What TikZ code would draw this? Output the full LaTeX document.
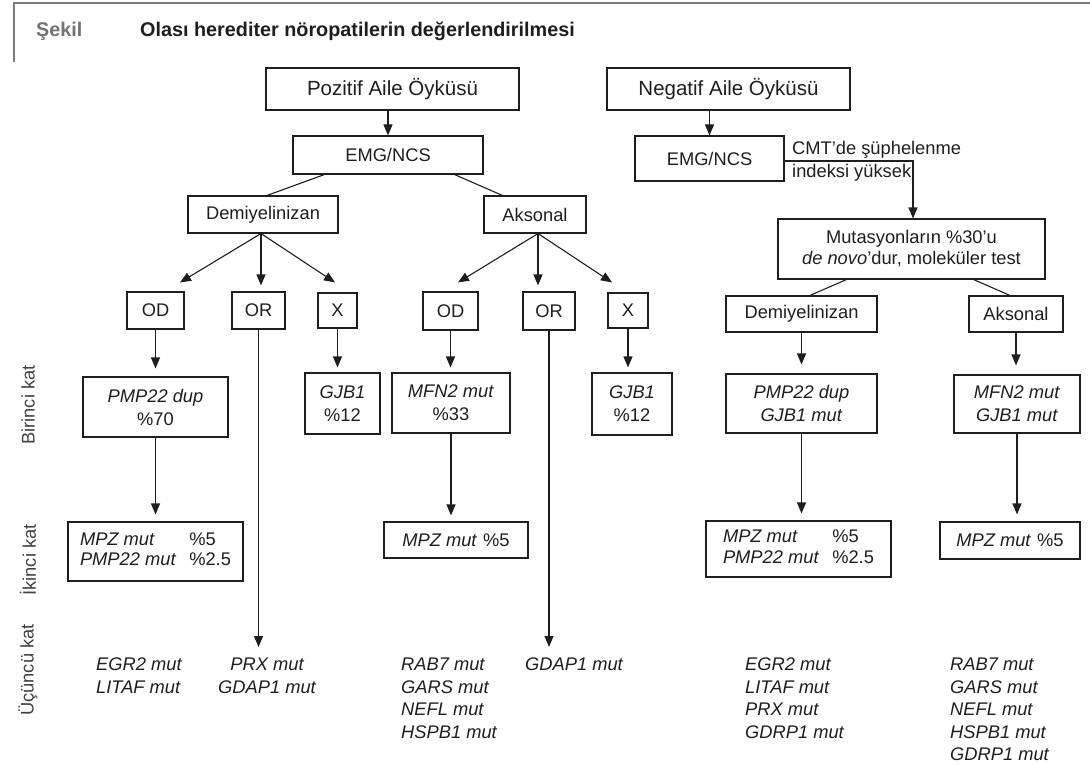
\documentclass[tikz,border=0pt]{standalone}
\usepackage{fontspec}
\setmainfont{Liberation Sans}
\usetikzlibrary{arrows.meta,calc}
\newcommand\nf{\fontsize{18.3}{23}\selectfont}
\newcommand\bigf{\fontsize{20.5}{24}\selectfont}
\definecolor{ink}{HTML}{1E1E1E}
\definecolor{framegray}{HTML}{7C7C7C}
\begin{document}
\begin{tikzpicture}[x=1pt,y=-1pt,
  box/.style={draw=ink, line width=1.1pt, inner sep=0pt, font=\nf, align=center, text=ink},
  bx/.style 2 args={box, minimum width=#1pt, minimum height=#2pt},
  ln/.style={draw=ink, line width=1.1pt},
  arr/.style={ln, -{Triangle[length=11pt,width=9pt]}},
  gap/.style={shorten >=#1pt},
  txt/.style={inner sep=0pt, font=\nf, text=ink, align=left},
  tier/.style={inner sep=0pt, font=\nf, text=black!75, rotate=90},
  pcttab/.style={}
]
\useasboundingbox (0,0) rectangle (1090,765);
% frame and title
\draw[framegray, line width=2pt] (14,62) -- (14,3) -- (1090,3);
\node[anchor=west, inner sep=0pt, font=\fontsize{19.8}{24}\selectfont\bfseries, text=black!55] (sekil) at (36,31) {Şekil};
\node[anchor=west, inner sep=0pt, font=\fontsize{19.8}{24}\selectfont\bfseries, text=ink] (title) at (140,31) {Olası herediter nöropatilerin değerlendirilmesi};
% tier labels
\node[tier] (t1lab) at (28,405) {Birinci kat};
\node[tier] (t2lab) at (28,560) {İkinci kat};
\node[tier] (t3lab) at (28,670) {Üçüncü kat};

% top level
\node[bx={253}{42}, font=\bigf] (pa) at (392.5,89) {Pozitif Aile Öyküsü};
\node[bx={243}{42}, font=\bigf] (na) at (728.5,89) {Negatif Aile Öyküsü};
\node[bx={190}{38}] (e1) at (388,155) {EMG/NCS};
\node[bx={149}{45}] (e2) at (709.5,158.5) {EMG/NCS};
\node[txt, anchor=north west, font=\fontsize{18.3}{23}\selectfont] (cmt) at (792,141) {CMT’de şüphelenme\\indeksi yüksek};

% left tree
\node[bx={150}{37}] (d1) at (263,214.5) {Demiyelinizan};
\node[bx={102}{37}] (a1) at (535,214.5) {Aksonal};
\node[bx={57}{37}] (od1) at (155.5,310.5) {OD};
\node[bx={53}{37}] (or1) at (258.5,310.5) {OR};
\node[bx={39}{35}] (x1) at (337.5,310.5) {X};
\node[bx={55}{38}] (od2) at (450.5,311) {OD};
\node[bx={52}{38}] (or2) at (549,311) {OR};
\node[bx={40}{35}] (x2) at (628,310.5) {X};

\node[bx={145}{60}] (p1) at (155.5,407) {\textit{PMP22 dup}\\\%70};
\node[bx={75}{61}] (g1) at (342.5,403.5) {\textit{GJB1}\\\%12};
\node[bx={118}{60}] (m1) at (451,403) {\textit{MFN2 mut}\\\%33};
\node[bx={80}{62}] (g2) at (632,404) {\textit{GJB1}\\\%12};

\node[bx={175}{59}, font=\fontsize{18.3}{20.5}\selectfont] (mp1) at (155.5,551.5)
  {\begin{tabular}{@{}l@{\hspace{13pt}}l@{}}\textit{MPZ mut}&\%5\\\textit{PMP22 mut}&\%2.5\end{tabular}};
\node[bx={144}{36}] (mp2) at (456,540) {\textit{MPZ mut}\hspace{6pt}\%5};

\node[txt, anchor=north west, font=\fontsize{18.3}{22.5}\selectfont\itshape] (t1) at (96,658) {EGR2 mut\\LITAF mut};
\node[txt, anchor=north, align=center, font=\fontsize{18.3}{22.5}\selectfont\itshape] (t2) at (267,658) {PRX mut\\GDAP1 mut};
\node[txt, anchor=north west, font=\fontsize{18.3}{22.5}\selectfont\itshape] (t3) at (401,658) {RAB7 mut\\GARS mut\\NEFL mut\\HSPB1 mut};
\node[txt, anchor=north west, font=\fontsize{18.3}{22.5}\selectfont\itshape] (t4) at (525,658) {GDAP1 mut};

% right tree
\node[bx={267}{60}, font=\fontsize{18.3}{21}\selectfont] (m) at (911.5,249) {Mutasyonların \%30’u\\\textit{de novo}’dur, moleküler test};
\node[bx={151}{36}] (d2) at (801.5,314) {Demiyelinizan};
\node[bx={94}{36}] (a2) at (1016,314) {Aksonal};
\node[bx={151}{59}] (pg) at (801.5,403.5) {\textit{PMP22 dup}\\\textit{GJB1 mut}};
\node[bx={126}{58}] (mg) at (1017,404) {\textit{MFN2 mut}\\\textit{GJB1 mut}};
\node[bx={185}{56}, font=\fontsize{18.3}{20.5}\selectfont] (mp3) at (798.5,549)
  {\begin{tabular}{@{}l@{\hspace{13pt}}l@{}}\textit{MPZ mut}&\%5\\\textit{PMP22 mut}&\%2.5\end{tabular}};
\node[bx={140}{37}] (mp4) at (1010,540.5) {\textit{MPZ mut}\hspace{6pt}\%5};
\node[txt, anchor=north west, font=\fontsize{18.3}{22.5}\selectfont\itshape] (t5) at (745,658) {EGR2 mut\\LITAF mut\\PRX mut\\GDRP1 mut};
\node[txt, anchor=north west, font=\fontsize{18.3}{22.5}\selectfont\itshape] (t6) at (950,658) {RAB7 mut\\GARS mut\\NEFL mut\\HSPB1 mut\\GDRP1 mut};

% connectors left
\draw[arr] (e1.north |- pa.south) -- (e1.north);
\draw[ln] ($(e1.south west)+(32,0)$) -- ($(d1.north)+(4,0)$);
\draw[ln] ($(e1.south east)+(-29,0)$) -- ($(a1.north west)+(19,0)$);
\coordinate (d1b) at ($(d1.south)+(-2,0)$);
\draw[arr] (d1b) -- ($(od1.north)+(24.5,-9)$);
\draw[arr] (d1b) -- ($(d1b |- or1.north)+(0,-6)$);
\draw[arr] (d1b) -- ($(x1.north)+(-2.5,-10)$);
\coordinate (a1b) at ($(a1.south)+(3,0)$);
\draw[arr] (a1b) -- ($(od2.north)+(7.5,-9)$);
\draw[arr] (a1b) -- ($(a1b |- or2.north)+(0,-6)$);
\draw[arr] (a1b) -- ($(x2.north)+(-16,-10)$);

\draw[arr, gap=8] (od1.south) -- (od1.south |- p1.north);
\draw[arr, gap=11] (or1.south) -- (or1.south |- t2.north);
\draw[arr, gap=5] (x1.south) -- (x1.south |- g1.north);
\draw[arr, gap=5] (od2.south) -- (od2.south |- m1.north);
\draw[arr, gap=11] (or2.south) -- (or2.south |- t4.north);
\draw[arr, gap=5] (x2.south) -- (x2.south |- g2.north);
\draw[arr, gap=7] (p1.south) -- (p1.south |- mp1.north);
\draw[arr, gap=6] (m1.south) -- (m1.south |- mp2.north);

% connectors right
\draw[arr] (e2.north |- na.south) -- (e2.north);
\draw[arr] ([yshift=-2.5pt]e2.east) -| ($(m.north)+(1.5,0)$);
\draw[ln] ($(m.south west)+(69,0)$) -- ($(d2.north)+(8.5,0)$);
\draw[ln] ($(m.south east)+(-72,0)$) -- ($(a2.north)+(-6,0)$);
\draw[arr, gap=9] (d2.south) -- (d2.south |- pg.north);
\draw[arr, gap=9] (a2.south) -- (a2.south |- mg.north);
\draw[arr, gap=7] (pg.south) -- (pg.south |- mp3.north);
\draw[arr, gap=7] (mg.south) -- (mg.south |- mp4.north);
\end{tikzpicture}
\end{document}
